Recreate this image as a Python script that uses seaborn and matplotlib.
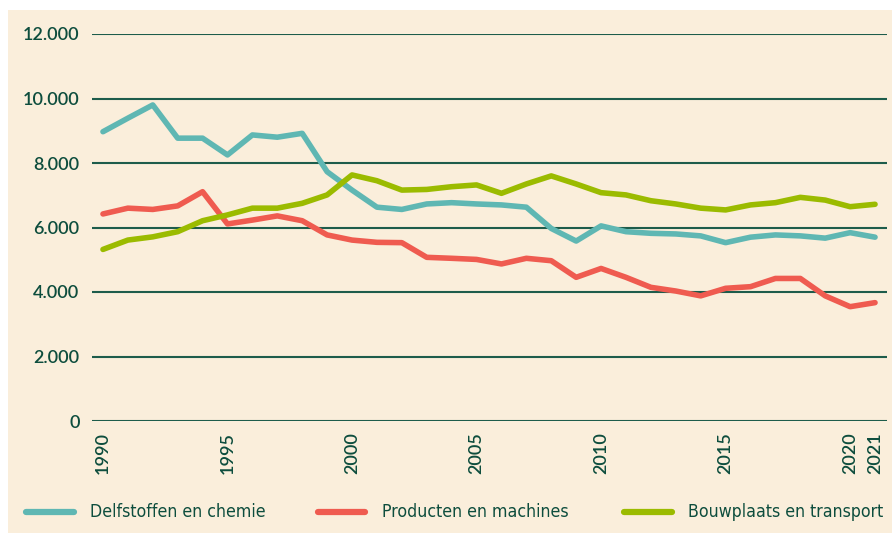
import numpy as np
import pandas as pd
import matplotlib
matplotlib.use("Agg")
import matplotlib.pyplot as plt
import seaborn as sns
from matplotlib.patches import Rectangle
from matplotlib.lines import Line2D

years = list(range(1990, 2022))
delfstoffen = [8970, 9390, 9800, 8770, 8770, 8250, 8870, 8800, 8920, 7730,
               7160, 6630, 6560, 6730, 6770, 6730, 6700, 6630, 5970, 5580,
               6050, 5870, 5820, 5800, 5740, 5530, 5700, 5770, 5740, 5670,
               5840, 5700]
producten = [6420, 6600, 6560, 6670, 7110, 6110, 6230, 6360, 6210, 5770,
             5610, 5540, 5530, 5075, 5045, 5010, 4870, 5045, 4970, 4455,
             4730, 4455, 4145, 4030, 3880, 4115, 4165, 4420, 4420, 3880,
             3545, 3670]
bouwplaats = [5320, 5610, 5710, 5870, 6210, 6390, 6600, 6600, 6750, 7010,
              7630, 7450, 7160, 7180, 7265, 7320, 7060, 7350, 7600, 7350,
              7080, 7010, 6830, 6730, 6600, 6545, 6700, 6770, 6935, 6850,
              6645, 6720]
series_names = ["Delfstoffen en chemie", "Producten en machines", "Bouwplaats en transport"]
colors = ["#5fb7b3", "#ef5b50", "#9bbb00"]
xticks = [1990, 1995, 2000, 2005, 2010, 2015, 2020, 2021]
yticks = [0, 2000, 4000, 6000, 8000, 10000, 12000]

df = pd.DataFrame({
    "jaar": years * 3,
    "waarde": delfstoffen + producten + bouwplaats,
    "sector": [series_names[0]] * len(years) + [series_names[1]] * len(years) + [series_names[2]] * len(years),
})

sns.set_theme(style="white")
plt.rcParams["font.family"] = ["Lato", "DejaVu Sans"]

text_col = "#0d4d3d"
grid_col = "#1d5c4b"
bg = "#faeedb"

fig = plt.figure(figsize=(8.92, 5.33), dpi=100, facecolor="white")
fig.patches.append(Rectangle((8 / 892, 0), 1 - 8 / 892, 1 - 10 / 533, transform=fig.transFigure,
                             facecolor=bg, edgecolor="none", zorder=-10))
ax = fig.add_axes([92 / 892, (533 - 421) / 533, (887 - 92) / 892, (421 - 34) / 533])
ax.set_facecolor(bg)
ax.patch.set_alpha(0)

sns.lineplot(data=df, x="jaar", y="waarde", hue="sector", palette=colors,
             linewidth=4.0, ax=ax, legend=False, sort=False)
for ln in ax.lines:
    ln.set_solid_capstyle("round")
    ln.set_solid_joinstyle("round")

ax.set_xlim(1989.56, 2021.48)
ax.set_ylim(0, 12000)
ax.set_yticks(yticks)
ax.set_yticklabels([f"{v:,}".replace(",", ".") for v in yticks])
ax.set_xticks(xticks)
ax.set_xticklabels([str(x) for x in xticks], rotation=90, va="top")
ax.yaxis.grid(True, color=grid_col, linewidth=1.5)
ax.set_axisbelow(True)
for s in ax.spines.values():
    s.set_visible(False)
ax.tick_params(axis="both", length=0, colors=text_col, labelsize=13)
ax.tick_params(axis="y", pad=9)
ax.tick_params(axis="x", pad=8)
for lbl in ax.get_xticklabels() + ax.get_yticklabels():
    lbl.set_fontweight("semibold")
ax.set_xlabel("")
ax.set_ylabel("")

# legend entries placed at the reference's positions
leg_y = 1 - 512 / 533
handle_x = [(26, 74), (318, 365), (624, 672)]
text_x = [90, 382, 688]
for (x0, x1), tx, name, c in zip(handle_x, text_x, series_names, colors):
    fig.add_artist(Line2D([x0 / 892, x1 / 892], [leg_y, leg_y], transform=fig.transFigure,
                          color=c, linewidth=4.5, solid_capstyle="round"))
    fig.text(tx / 892, leg_y, name, ha="left", va="center", color=text_col, fontsize=12.7,
             family="DejaVu Sans", stretch="condensed")

fig.savefig("out.png", dpi=100, facecolor="white")
